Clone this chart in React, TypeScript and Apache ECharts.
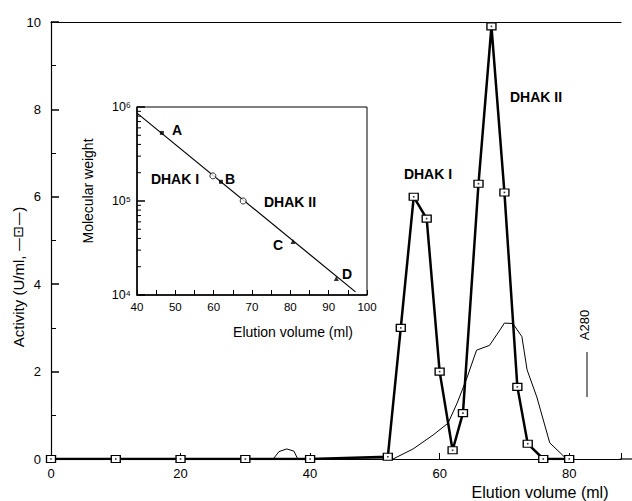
import React, { useEffect, useRef } from "react";
import * as echarts from "echarts";

// Main chart: enzyme activity (squares) and A280 (thin line) vs elution volume
const activityX = [0, 10, 20, 30, 40, 52, 54, 56, 58, 60, 62, 63.6, 66, 68, 70, 72, 73.6, 76, 80];
const activityY = [0, 0, 0, 0, 0, 0.05, 3.0, 6.0, 5.5, 2.0, 0.2, 1.05, 6.3, 9.9, 6.1, 1.65, 0.35, 0, 0];

const a280X = [34.3, 35.2, 36.4, 37.5, 38.1, 52.8, 55.9, 59, 61.3, 62.7, 64.2, 65.7, 67.7, 69.3, 70, 71.3, 72.7, 73.5, 75, 77, 79.6];
const a280Y = [0, 0.17, 0.23, 0.18, 0, 0, 0.23, 0.55, 0.82, 1.28, 1.85, 2.49, 2.6, 2.95, 3.11, 3.1, 2.8, 2.04, 1.42, 0.37, 0];

// Inset: calibration (log molecular weight vs elution volume)
const fitX = [40, 97];
const fitY = [8.6e5, 1.08e4];
const stdNames = ["A", "B", "C", "D"];
const stdX = [46.5, 61.9, 80.7, 92];
const stdY = [5.3e5, 1.6e5, 3.7e4, 1.5e4];
const dhakNames = ["DHAK I", "DHAK II"];
const dhakX = [59.8, 67.7];
const dhakY = [1.85e5, 1.0e5];
const minorLogTicks = [2e4, 3e4, 4e4, 5e4, 6e4, 7e4, 8e4, 9e4, 2e5, 3e5, 4e5, 5e5, 6e5, 7e5, 8e5, 9e5];

const FONT = "'Liberation Sans', Arial, Helvetica, sans-serif";
const sup: Record<string, string> = { "4": "⁴", "5": "⁵", "6": "⁶" };

export default function App() {
  const ref = useRef<HTMLDivElement>(null);
  useEffect(() => {
    if (!ref.current) return;
    const chart = echarts.init(ref.current, undefined, { renderer: "svg" });
    const zip = (xs: number[], ys: number[]) => xs.map((x, i) => [x, ys[i]]);
    const txt = (text: string, x: number, y: number, font: string, rotation = 0, extra: any = {}) => ({
      type: "text",
      x,
      y,
      rotation,
      z: 100,
      style: { text, font, fill: "#000", align: "center", verticalAlign: "middle", ...extra },
    });
    const option: any = {
      animation: false,
      backgroundColor: "#fff",
      textStyle: { fontFamily: FONT },
      grid: [
        { left: 51, top: 22, width: 570, height: 437 },
        {
          left: 137, top: 107, width: 230, height: 188,
          show: true, borderColor: "#000", borderWidth: 1, backgroundColor: "#fff", z: 5,
        },
      ],
      xAxis: [
        {
          gridIndex: 0, type: "value", min: 0, max: 88, interval: 20,
          axisLine: { lineStyle: { color: "#000", width: 1.2 } },
          axisTick: { inside: true, length: 6, lineStyle: { color: "#000" } },
          axisLabel: {
            color: "#000", fontSize: 13, fontFamily: FONT, margin: 8,
            formatter: (v: number) => (v % 20 === 0 ? String(v) : ""),
          },
          splitLine: { show: false },
        },
        {
          gridIndex: 0, type: "value", min: 0, max: 88, position: "top",
          axisLine: { lineStyle: { color: "#000", width: 1.2 } },
          axisTick: { show: false }, axisLabel: { show: false }, splitLine: { show: false },
        },
        {
          gridIndex: 1, type: "value", min: 40, max: 100, interval: 10,
          axisLine: { lineStyle: { color: "#000", width: 1.5 } },
          axisTick: { inside: true, length: 5, lineStyle: { color: "#000" } },
          minorTick: { show: true, splitNumber: 2, length: 5, lineStyle: { color: "#000" } },
          axisLabel: { color: "#000", fontSize: 11.5, fontFamily: FONT, margin: 6 },
          splitLine: { show: false },
          z: 6,
        },
      ],
      yAxis: [
        {
          gridIndex: 0, type: "value", min: 0, max: 10, interval: 2,
          axisLine: { lineStyle: { color: "#000", width: 1.2 } },
          axisTick: { inside: true, length: 8, lineStyle: { color: "#000", width: 1.5 } },
          minorTick: { show: true, splitNumber: 2, length: 5, lineStyle: { color: "#000" } },
          axisLabel: { color: "#000", fontSize: 13, fontFamily: FONT, margin: 10 },
          splitLine: { show: false },
        },
        {
          gridIndex: 1, type: "log", logBase: 10, min: 1e4, max: 1e6,
          axisLine: { lineStyle: { color: "#000", width: 1.5 } },
          axisTick: { inside: true, length: 8, lineStyle: { color: "#000", width: 1.5 } },
          axisLabel: {
            color: "#000", fontSize: 12.5, fontFamily: FONT, margin: 6,
            formatter: (v: number) => "10" + (sup[String(Math.round(Math.log10(v)))] || ""),
          },
          splitLine: { show: false },
          z: 6,
        },
      ],
      series: [
        {
          type: "line", xAxisIndex: 0, yAxisIndex: 0,
          data: zip(a280X, a280Y), showSymbol: false, symbol: "none",
          lineStyle: { color: "#000", width: 1 }, z: 2,
        },
        {
          type: "line", xAxisIndex: 0, yAxisIndex: 0,
          data: zip(activityX, activityY),
          symbol: "rect", symbolSize: [9, 7], showSymbol: true,
          itemStyle: { color: "#fff", borderColor: "#000", borderWidth: 1.2 },
          lineStyle: { color: "#000", width: 2.5 }, z: 3,
        },
        {
          type: "scatter", xAxisIndex: 0, yAxisIndex: 0,
          data: zip(activityX, activityY),
          symbol: "rect", symbolSize: 1.6, itemStyle: { color: "#000" }, z: 4,
        },
        {
          type: "line", xAxisIndex: 2, yAxisIndex: 1,
          data: zip(fitX, fitY), symbol: "none",
          lineStyle: { color: "#000", width: 1.2 }, z: 10,
        },
        {
          type: "scatter", xAxisIndex: 2, yAxisIndex: 1,
          data: zip(stdX, stdY).map((d, i) => ({
            value: d, name: stdNames[i],
            symbol: i < 2 ? "rect" : "triangle",
            symbolSize: i < 2 ? 4 : 5,
          })),
          itemStyle: { color: "#000" }, z: 11,
        },
        {
          type: "scatter", xAxisIndex: 2, yAxisIndex: 1,
          data: zip(dhakX, dhakY).map((d, i) => ({ value: d, name: dhakNames[i] })),
          symbol: "circle", symbolSize: 6,
          itemStyle: { color: "#fff", borderColor: "#000", borderWidth: 1 }, z: 11,
        },
        {
          type: "custom", xAxisIndex: 2, yAxisIndex: 1, clip: false, z: 12,
          data: minorLogTicks.map((v) => [40, v]),
          renderItem: (params: any, api: any) => {
            const p = api.coord([api.value(0), api.value(1)]);
            return {
              type: "line",
              shape: { x1: p[0], y1: p[1], x2: p[0] + 4, y2: p[1] },
              style: { stroke: "#000", lineWidth: 1 },
            };
          },
        },
      ],
      graphic: [
        { type: "line", z: 50, shape: { x1: 620, y1: 459, x2: 632, y2: 459 }, style: { stroke: "#000", lineWidth: 1.2 } },
        { type: "line", z: 50, shape: { x1: 587, y1: 352, x2: 587, y2: 397 }, style: { stroke: "#000", lineWidth: 1 } },
        txt("A280", 584, 325, `13px ${FONT}`, Math.PI / 2),
        txt("Activity (U/ml, {s|—⊡—})", 18, 277, `15px ${FONT}`, Math.PI / 2, {
          rich: { s: { fontFamily: "'DejaVu Sans'", fontSize: 14, fill: "#000" } },
        }),
        txt("Elution volume (ml)", 540, 492, `16px ${FONT}`),
        txt("Molecular weight", 88, 191, `14px ${FONT}`, Math.PI / 2),
        txt("Elution volume (ml)", 293, 332, `14px ${FONT}`),
        txt("DHAK I", 428, 174, `bold 14px ${FONT}`),
        txt("DHAK II", 536, 97, `bold 14px ${FONT}`),
        txt("A", 177, 130, `bold 14px ${FONT}`),
        txt("B", 230, 179, `bold 14px ${FONT}`),
        txt("DHAK I", 175, 179, `bold 14px ${FONT}`),
        txt("DHAK II", 290, 202, `bold 14px ${FONT}`),
        txt("C", 278, 245, `bold 14px ${FONT}`),
        txt("D", 347, 274, `bold 14px ${FONT}`),
      ],
    };
    chart.setOption(option);
    return () => chart.dispose();
  }, []);
  return (
    <div
      ref={ref}
      style={{ position: "absolute", left: 0, top: 0, width: 632, height: 501, background: "#fff" }}
    />
  );
}
